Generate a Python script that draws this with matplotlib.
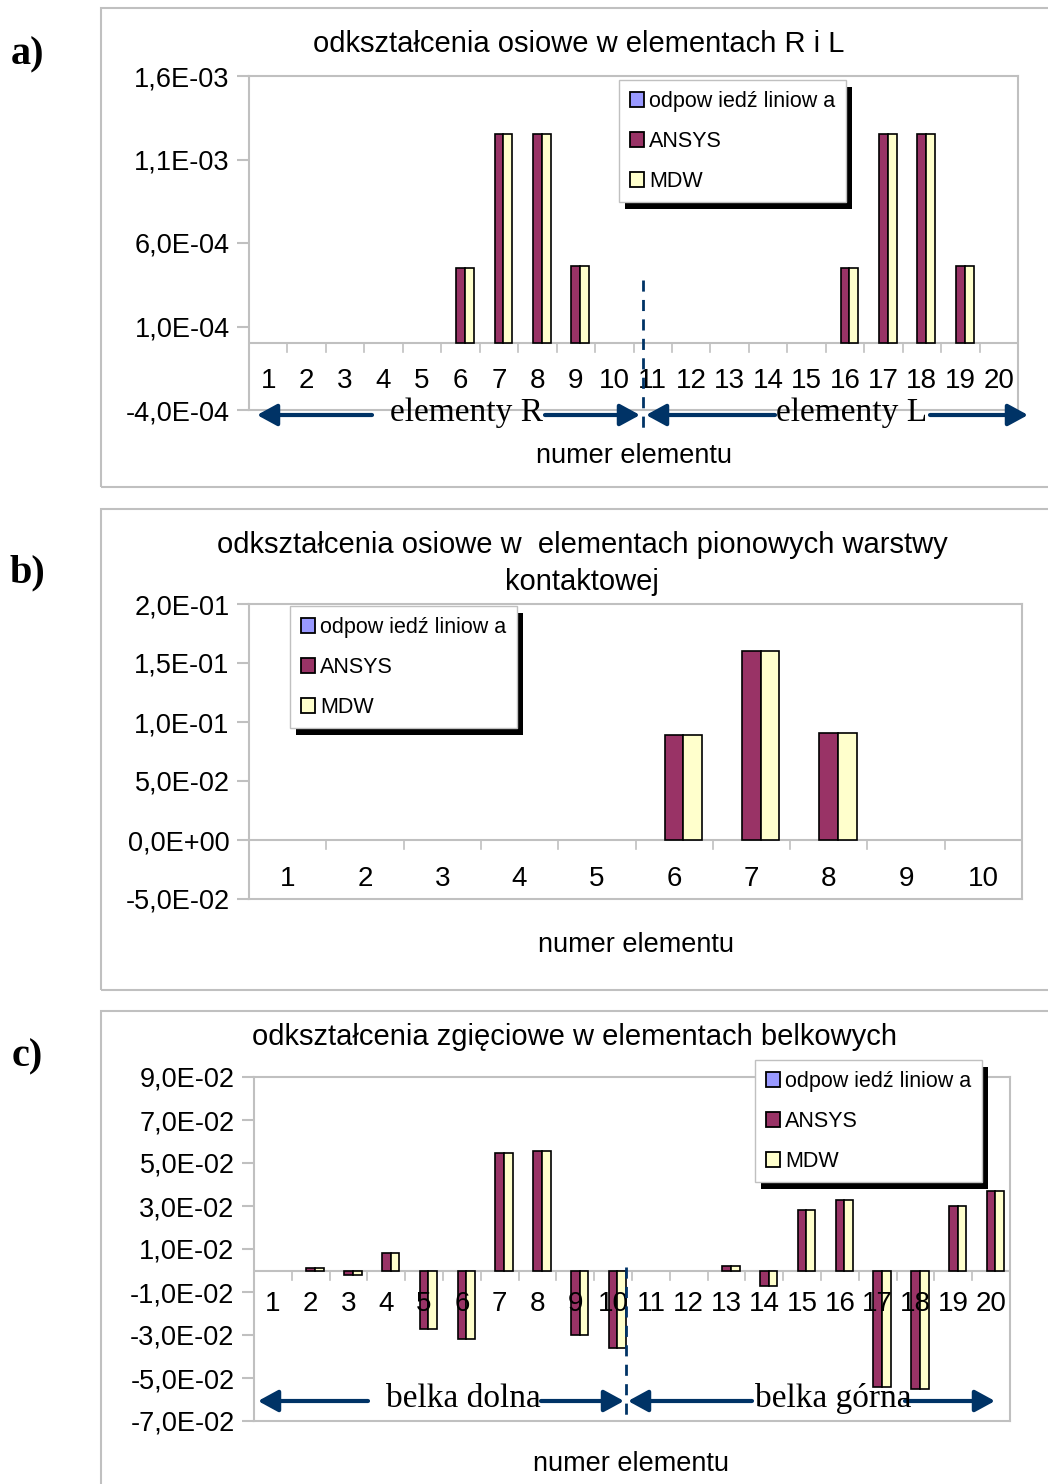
import numpy as np
import matplotlib.pyplot as plt
from matplotlib.patches import Rectangle, Patch, FancyArrowPatch
from matplotlib.lines import Line2D
from matplotlib.ticker import FuncFormatter

W, H = 1048, 1484

# ---------------------------------------------------------------
# data

series_names = ['odpow iedź liniow a', 'ANSYS', 'MDW']
series_colors = ['#9999ff', '#993366', '#ffffcc']

# a) axial strains in R and L elements
elem_a = list(range(1, 21))
linear_a = [0] * 20
ansys_a = [0, 0, 0, 0, 0, 4.5e-4, 1.25e-3, 1.25e-3, 4.6e-4, 0,
           0, 0, 0, 0, 0, 4.5e-4, 1.25e-3, 1.25e-3, 4.6e-4, 0]
mdw_a = [0, 0, 0, 0, 0, 4.5e-4, 1.25e-3, 1.25e-3, 4.6e-4, 0,
         0, 0, 0, 0, 0, 4.5e-4, 1.25e-3, 1.25e-3, 4.6e-4, 0]
yticks_a = [-4e-4, 1e-4, 6e-4, 1.1e-3, 1.6e-3]

# b) axial strains in vertical contact layer elements
elem_b = list(range(1, 11))
linear_b = [0] * 10
ansys_b = [0, 0, 0, 0, 0, 0.089, 0.160, 0.091, 0, 0]
mdw_b = [0, 0, 0, 0, 0, 0.089, 0.160, 0.091, 0, 0]
yticks_b = [-0.05, 0.0, 0.05, 0.10, 0.15, 0.20]

# c) bending strains in beam elements
elem_c = list(range(1, 21))
linear_c = [0] * 20
ansys_c = [0, 0.001, -0.002, 0.008, -0.027, -0.032, 0.0545, 0.0555, -0.030, -0.036,
           0, 0, 0.002, -0.007, 0.028, 0.033, -0.054, -0.055, 0.030, 0.037]
mdw_c = [0, 0.001, -0.002, 0.008, -0.027, -0.032, 0.0545, 0.0555, -0.030, -0.036,
         0, 0, 0.002, -0.007, 0.028, 0.033, -0.054, -0.055, 0.030, 0.037]
yticks_c = [-0.07, -0.05, -0.03, -0.01, 0.01, 0.03, 0.05, 0.07, 0.09]

# ---------------------------------------------------------------

SANS = ['Liberation Sans', 'DejaVu Sans']
SERIF = ['Liberation Serif', 'DejaVu Serif']
plt.rcParams['font.family'] = SANS

GRAY = '#c0c0c0'
NAVY = '#003366'

fig = plt.figure(figsize=(W / 100, H / 100), dpi=100)


def fx(x):
    return x / W


def fy(y):
    return 1 - y / H


def add_ax(l, t, r, b):
    return fig.add_axes([l / W, 1 - b / H, (r - l) / W, (b - t) / H])


def frame(t, b):
    fig.add_artist(Rectangle((fx(101), fy(b)), (1100 - 101) / W, (b - t) / H,
                             transform=fig.transFigure, fill=False,
                             ec=GRAY, lw=1.5))


def sci(v, pos):
    return f"{v:.1E}".replace('.', ',')


def chart(ax, cats, series, yticks, box, label_px, width=0.23):
    l, t, r, b = box
    x = np.arange(1, len(cats) + 1)
    for k, vals in enumerate(series):
        lw = [1.2 if v != 0 else 0 for v in vals]
        ax.bar(x + (k - 1) * width, vals, width, color=series_colors[k],
               edgecolor='black', linewidth=lw, zorder=3)
    ymin, ymax = yticks[0], yticks[-1]
    ax.set_xlim(0.5, len(cats) + 0.5)
    ax.set_ylim(ymin, ymax)
    ax.set_yticks(yticks)
    ax.yaxis.set_major_formatter(FuncFormatter(sci))
    ax.set_xticks([])
    ax.tick_params(axis='y', direction='out', length=9, width=1.5,
                   color=GRAY, labelsize=19.5, pad=5)
    for s in ax.spines.values():
        s.set_color(GRAY)
        s.set_linewidth(1.5)
    ax.axhline(0, color=GRAY, lw=1.5, zorder=2)
    per_px = (ymax - ymin) / (b - t)
    for bd in np.arange(1.5, len(cats)):
        ax.plot([bd, bd], [0, -9 * per_px], color=GRAY, lw=1.2, zorder=2)
    yl = ymax - (label_px - t) * per_px
    for i, c in enumerate(cats):
        ax.text(x[i], yl, str(c), ha='center', va='center', fontsize=20, zorder=6)


def legend(ax, x0, y0):
    handles = [Patch(facecolor=c, edgecolor='black', lw=1.3) for c in series_colors]
    leg = ax.legend(handles, series_names, loc='upper left',
                    bbox_to_anchor=(fx(x0), fy(y0)), bbox_transform=fig.transFigure,
                    fancybox=False, edgecolor=GRAY, framealpha=1, borderaxespad=0,
                    borderpad=0.5, handlelength=0.65, handleheight=0.7,
                    handletextpad=0.25, labelspacing=0.88,
                    prop={'size': 15.5})
    leg.set_zorder(10)
    leg.get_frame().set_linewidth(1.0)
    return leg


def arrow(x1, x2, y):
    fig.add_artist(FancyArrowPatch((fx(x1), fy(y)), (fx(x2), fy(y)),
                                   transform=fig.transFigure,
                                   arrowstyle='-|>,head_length=0.55,head_width=0.3',
                                   mutation_scale=22, lw=3, color=NAVY,
                                   shrinkA=0, shrinkB=0))


def dashed(x, y1, y2):
    fig.add_artist(Line2D([fx(x), fx(x)], [fy(y1), fy(y2)], transform=fig.transFigure,
                          color=NAVY, lw=2, dashes=(4, 3)))


# ---------------- panel a
frame(8, 487)
box_a = (249, 76, 1018, 410)
ax_a = add_ax(*box_a)
chart(ax_a, elem_a, [linear_a, ansys_a, mdw_a], yticks_a, box_a, 381)
leg_a = legend(ax_a, 619, 80)
fig.text(fx(579), fy(44), 'odkształcenia osiowe w elementach R i L',
         ha='center', va='center', fontsize=21)
fig.text(fx(634), fy(456), 'numer elementu', ha='center', va='center', fontsize=19.5)
fig.text(fx(27), fy(55), 'a)', ha='center', va='center', fontsize=29,
         family=SERIF, weight='bold')
dashed(643, 280, 432)
arrow(372, 257, 415)
arrow(545, 640, 415)
arrow(775, 646, 415)
arrow(930, 1028, 415)
fig.text(fx(467), fy(413), 'elementy R', ha='center', va='center', fontsize=24, family=SERIF)
fig.text(fx(852), fy(413), 'elementy L', ha='center', va='center', fontsize=24, family=SERIF)

# ---------------- panel b
frame(509, 990)
box_b = (249, 604, 1022, 899)
ax_b = add_ax(*box_b)
chart(ax_b, elem_b, [linear_b, ansys_b, mdw_b], yticks_b, box_b, 879, width=0.24)
leg_b = legend(ax_b, 290, 606)
fig.text(fx(582), fy(545), 'odkształcenia osiowe w  elementach pionowych warstwy',
         ha='center', va='center', fontsize=21)
fig.text(fx(582), fy(582), 'kontaktowej', ha='center', va='center', fontsize=21)
fig.text(fx(636), fy(945), 'numer elementu', ha='center', va='center', fontsize=19.5)
fig.text(fx(27), fy(573), 'b)', ha='center', va='center', fontsize=29,
         family=SERIF, weight='bold')

# ---------------- panel c
frame(1011, 1600)
box_c = (254, 1077, 1010, 1421)
ax_c = add_ax(*box_c)
chart(ax_c, elem_c, [linear_c, ansys_c, mdw_c], yticks_c, box_c, 1304)
leg_c = legend(ax_c, 755, 1060)
fig.text(fx(574), fy(1037), 'odkształcenia zgięciowe w elementach belkowych',
         ha='center', va='center', fontsize=21)
fig.text(fx(631), fy(1464), 'numer elementu', ha='center', va='center', fontsize=19.5)
fig.text(fx(27), fy(1057), 'c)', ha='center', va='center', fontsize=29,
         family=SERIF, weight='bold')
dashed(626, 1267, 1420)
arrow(368, 258, 1401)
arrow(541, 624, 1401)
arrow(752, 628, 1401)
arrow(905, 995, 1401)
fig.text(fx(463), fy(1399), 'belka dolna', ha='center', va='center', fontsize=24, family=SERIF)
fig.text(fx(833), fy(1399), 'belka górna', ha='center', va='center', fontsize=24, family=SERIF)

# black legend shadows
fig.canvas.draw()
for ax, leg in [(ax_a, leg_a), (ax_b, leg_b), (ax_c, leg_c)]:
    bb = leg.get_window_extent()
    sh = Rectangle(((bb.x0 + 6) / W, (bb.y0 - 7) / H), bb.width / W, bb.height / H,
                   transform=fig.transFigure, facecolor='black', edgecolor='none',
                   zorder=9, clip_on=False)
    ax.add_patch(sh)

fig.savefig('out.png', dpi=100)
